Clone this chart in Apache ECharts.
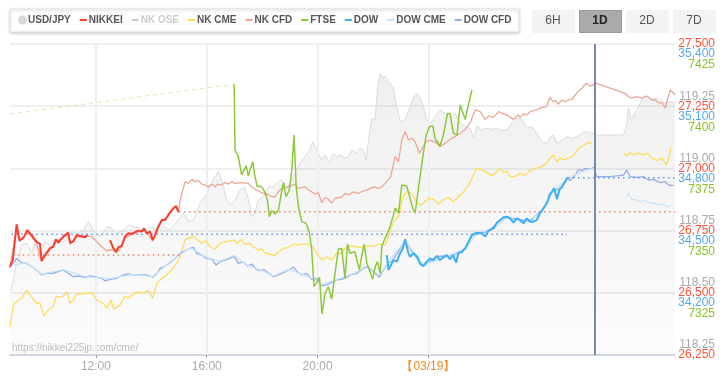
<!DOCTYPE html>
<html><head><meta charset="utf-8">
<script src="https://cdn.jsdelivr.net/npm/echarts@6/dist/echarts.min.js"></script>
<style>html,body{margin:0;padding:0;background:#fff}#c{width:726px;height:380px}</style>
</head><body><div id="c"></div>
<script>
// ---- axis / tick definitions ----
const timeTicks = [12, 16, 20, 24];
const nowMarker = 30;               // 06:00 on 03/19
const legendNames = ['USD/JPY','NIKKEI','NK OSE','NK CME','NK CFD','FTSE','DOW','DOW CME','DOW CFD'];
const buttons = ['6H','1D','2D','7D'];

// ---- series values: [hour since 03/18 00:00, value] ----
const usdjpy = [[8.93,118.504],[9.02,118.551],[9.08,118.591],[9.20,118.639],[9.32,118.692],[9.50,118.699],[9.68,118.659],[9.80,118.699],[9.98,118.652],[10.16,118.705],[10.34,118.692],[10.52,118.715],[10.71,118.699],[10.95,118.715],[11.13,118.746],[11.37,118.739],[11.55,118.752],[11.73,118.786],[11.85,118.766],[12.03,118.726],[12.21,118.732],[12.39,118.766],[12.57,118.759],[12.75,118.739],[12.99,118.752],[13.17,118.773],[13.35,118.766],[13.59,118.759],[13.83,118.739],[14.02,118.766],[14.20,118.742],[14.43,118.766],[14.68,118.752],[14.92,118.786],[15.16,118.820],[15.34,118.786],[15.52,118.793],[15.76,118.860],[15.94,118.886],[16.12,118.927],[16.30,118.967],[16.42,118.987],[16.54,118.953],[16.72,118.873],[16.87,118.853],[17.02,118.873],[17.20,118.913],[17.35,118.926],[17.50,118.880],[17.63,118.806],[17.74,118.820],[17.86,118.873],[18.04,118.886],[18.23,118.926],[18.41,118.926],[18.59,118.947],[18.71,118.953],[18.89,118.926],[19.01,118.940],[19.19,118.980],[19.37,119.021],[19.55,119.047],[19.71,119.074],[19.83,119.107],[19.97,119.074],[20.15,119.034],[20.27,119.054],[20.43,119.021],[20.57,119.061],[20.69,119.047],[20.81,119.054],[20.99,119.041],[21.11,119.047],[21.24,119.074],[21.42,119.061],[21.54,119.081],[21.65,119.074],[21.75,119.034],[21.84,119.114],[21.96,119.201],[22.08,119.195],[22.16,119.315],[22.26,119.382],[22.35,119.362],[22.44,119.369],[22.56,119.348],[22.72,119.328],[22.86,119.248],[22.98,119.188],[23.16,119.195],[23.34,119.248],[23.48,119.288],[23.60,119.302],[23.73,119.275],[23.82,119.248],[23.94,119.195],[24.09,119.181],[24.24,119.208],[24.42,119.235],[24.60,119.221],[24.78,119.201],[24.96,119.221],[25.15,119.181],[25.33,119.168],[25.51,119.161],[25.63,119.121],[25.75,119.170],[25.93,119.154],[26.11,119.161],[26.29,119.157],[26.47,119.161],[26.65,119.152],[26.83,119.154],[27.01,119.184],[27.19,119.201],[27.37,119.201],[27.55,119.161],[27.73,119.168],[27.91,119.141],[28.09,119.107],[28.28,119.101],[28.39,119.127],[28.51,119.134],[28.64,119.101],[28.82,119.114],[29.00,119.127],[29.18,119.121],[29.36,119.127],[29.54,119.141],[29.72,119.148],[29.90,119.141],[30.08,119.134],[31.04,119.134],[31.16,119.174],[31.22,119.242],[31.31,119.195],[31.43,119.215],[31.58,119.248],[31.70,119.275],[31.82,119.291],[32.00,119.278],[32.18,119.282],[32.37,119.275],[32.55,119.262],[32.73,119.268],[32.90,119.262]];

const nikkei = [[8.90,26605],[9.00,26632],[9.14,26775],[9.24,26712],[9.32,26715],[9.41,26726],[9.52,26752],[9.68,26732],[9.86,26705],[9.98,26698],[10.04,26629],[10.16,26652],[10.34,26679],[10.46,26685],[10.56,26715],[10.64,26701],[10.82,26726],[11.00,26742],[11.07,26701],[11.19,26707],[11.31,26732],[11.49,26726],[11.61,26723],[11.69,26732],[12.10,null],[12.51,26712],[12.63,26679],[12.73,26665],[12.81,26683],[12.93,26688],[13.05,26726],[13.17,26739],[13.29,26736],[13.41,26744],[13.53,26750],[13.65,26746],[13.74,26759],[13.83,26739],[13.95,26746],[14.05,26712],[14.13,26732],[14.25,26766],[14.38,26793],[14.50,26793],[14.61,26813],[14.68,26820],[14.80,26840],[14.89,26849],[14.98,26826]];

const nkOse = [];

const nkCme = [[8.90,26364],[9.02,26451],[9.14,26464],[9.32,26478],[9.50,26511],[9.68,26484],[9.86,26458],[9.98,26458],[10.13,26407],[10.28,26431],[10.46,26444],[10.56,26484],[10.71,26484],[10.82,26487],[10.95,26504],[11.07,26458],[11.19,26471],[11.31,26498],[11.49,26495],[11.67,26498],[11.85,26500],[12.03,26471],[12.27,26458],[12.39,26438],[12.54,26471],[12.65,26434],[12.87,26451],[13.05,26487],[13.17,26478],[13.35,26495],[13.53,26504],[13.71,26498],[13.89,26509],[14.05,26478],[14.20,26538],[14.38,26558],[14.56,26572],[14.74,26592],[14.92,26621],[15.04,26645],[15.22,26715],[15.34,26719],[15.50,26728],[15.64,26715],[15.82,26699],[15.98,26709],[16.12,26685],[16.30,26675],[16.48,26699],[16.66,26705],[16.84,26709],[17.02,26712],[17.08,26696],[17.23,26715],[17.38,26696],[17.54,26699],[17.68,26685],[17.86,26672],[17.99,26675],[18.11,26659],[18.29,26656],[18.43,26648],[18.59,26665],[18.77,26679],[18.95,26683],[19.13,26696],[19.31,26692],[19.49,26696],[19.67,26696],[19.85,26683],[19.97,26659],[20.15,26632],[20.33,26645],[20.51,26632],[20.69,26659],[20.87,26659],[21.06,26688],[21.17,26688],[21.54,26683],[21.78,26688],[22.02,26688],[22.26,26696],[22.44,26692],[22.56,26726],[22.74,26786],[22.92,26806],[23.08,26886],[23.22,26906],[23.37,26900],[23.52,26876],[23.68,26853],[23.82,26860],[24.00,26880],[24.18,26876],[24.36,26857],[24.54,26873],[24.72,26884],[24.90,26866],[25.08,26886],[25.27,26906],[25.45,26933],[25.63,26974],[25.75,27000],[25.93,26994],[26.11,26983],[26.29,26970],[26.47,26987],[26.56,27000],[26.71,26983],[26.83,26987],[26.95,26967],[27.13,26967],[27.31,26980],[27.49,26973],[27.67,26991],[27.85,27000],[28.03,27004],[28.21,27014],[28.39,27041],[28.51,27054],[28.64,27027],[28.76,27041],[28.88,27034],[29.06,27041],[29.18,27047],[29.30,27061],[29.42,27081],[29.60,27094],[29.78,27103],[29.90,27103],[30.40,null],[31.04,27061],[31.16,27050],[31.28,27063],[31.42,27054],[31.58,27061],[31.76,27054],[31.91,27061],[32.07,27041],[32.25,27031],[32.43,27041],[32.58,27014],[32.67,27041],[32.75,27081]];

const nkCfd = [[8.90,26600],[9.14,26760],[9.24,26705],[9.52,26745],[9.86,26700],[10.04,26625],[10.34,26672],[10.56,26708],[10.82,26720],[11.00,26735],[11.07,26695],[11.31,26725],[11.69,26728],[11.85,26726],[12.03,26705],[12.15,26692],[12.27,26679],[12.39,26669],[12.51,26672],[12.63,26672],[12.73,26660],[12.93,26685],[13.05,26720],[13.29,26735],[13.53,26745],[13.74,26755],[14.05,26708],[14.25,26760],[14.38,26788],[14.61,26808],[14.74,26835],[14.89,26843],[14.98,26822],[15.04,26873],[15.22,26947],[15.34,26940],[15.46,26956],[15.58,26947],[15.70,26951],[15.82,26937],[15.94,26933],[16.06,26924],[16.18,26937],[16.30,26926],[16.42,26937],[16.54,26933],[16.66,26943],[16.78,26937],[16.90,26947],[17.02,26940],[17.26,26943],[17.50,26940],[17.62,26926],[17.74,26916],[17.86,26910],[17.99,26900],[18.11,26902],[18.23,26893],[18.35,26886],[18.47,26886],[18.59,26906],[18.71,26920],[18.95,26926],[19.19,26937],[19.31,26920],[19.55,26926],[19.67,26913],[19.91,26897],[20.03,26902],[20.15,26862],[20.27,26884],[20.39,26876],[20.51,26860],[20.63,26880],[20.87,26884],[20.99,26900],[21.11,26893],[21.29,26906],[21.47,26900],[21.66,26910],[21.84,26916],[22.02,26926],[22.20,26920],[22.32,26926],[22.50,26947],[22.64,26967],[22.80,27047],[22.92,27027],[23.04,27114],[23.16,27148],[23.28,27114],[23.40,27121],[23.52,27107],[23.68,27061],[23.80,27087],[23.92,27107],[24.06,27114],[24.24,27107],[24.42,27087],[24.60,27101],[24.78,27117],[24.96,27127],[25.15,27141],[25.33,27157],[25.51,27184],[25.69,27235],[25.87,27228],[26.05,27197],[26.17,27211],[26.35,27205],[26.53,27228],[26.71,27219],[26.89,27211],[27.07,27197],[27.25,27215],[27.31,27205],[27.43,27219],[27.55,27215],[27.67,27228],[27.79,27232],[27.91,27235],[28.03,27242],[28.15,27246],[28.27,27248],[28.39,27286],[28.49,27268],[28.58,27272],[28.69,27259],[28.82,27275],[28.94,27268],[29.06,27275],[29.18,27278],[29.30,27295],[29.42,27312],[29.54,27322],[29.69,27342],[29.84,27331],[29.94,27335],[30.02,27344],[31.10,27302],[31.22,27288],[31.34,27282],[31.52,27288],[31.70,27282],[31.89,27291],[32.07,27275],[32.19,27275],[32.30,27264],[32.46,27262],[32.55,27242],[32.63,27278],[32.73,27315],[32.85,27302],[32.90,27295]];

const ftse = [[16.99,7408.8],[17.02,7382.4],[17.14,7379.7],[17.26,7372.4],[17.42,7376.0],[17.50,7372.0],[17.57,7372.4],[17.66,7377.7],[17.74,7371.7],[17.83,7367.6],[17.93,7367.9],[18.02,7367.0],[18.11,7365.2],[18.19,7362.3],[18.26,7355.6],[18.35,7358.0],[18.47,7356.7],[18.59,7358.3],[18.67,7363.6],[18.77,7369.3],[18.86,7363.6],[18.98,7366.3],[19.07,7374.4],[19.15,7388.4],[19.23,7367.6],[19.31,7359.6],[19.43,7353.6],[19.59,7352.9],[19.71,7348.9],[19.79,7342.2],[19.87,7327.5],[19.97,7329.1],[20.07,7331.2],[20.16,7316.5],[20.27,7324.8],[20.39,7327.5],[20.51,7322.4],[20.63,7332.8],[20.75,7342.5],[20.87,7342.9],[20.99,7330.8],[21.08,7344.6],[21.17,7340.9],[21.35,7341.5],[21.42,7338.2],[21.51,7334.2],[21.60,7340.2],[21.68,7344.6],[21.78,7336.9],[21.87,7334.2],[21.99,7330.4],[22.08,7335.5],[22.16,7337.5],[22.26,7332.8],[22.32,7343.8],[22.41,7346.2],[22.52,7348.9],[22.62,7351.6],[22.72,7355.6],[22.80,7359.0],[22.92,7357.0],[23.04,7368.3],[23.22,7367.9],[23.32,7363.6],[23.44,7358.9],[23.52,7357.0],[23.60,7363.6],[23.70,7371.7],[23.80,7379.7],[23.92,7388.4],[24.04,7391.8],[24.16,7392.0],[24.24,7387.1],[24.42,7384.0],[24.54,7388.4],[24.69,7397.1],[24.78,7397.1],[24.90,7389.1],[25.03,7388.4],[25.15,7400.5],[25.33,7394.7],[25.45,7400.9],[25.57,7406.5]];
const ftseLink = [[8.90,7396.9],[16.99,7408.8]];

const dow = [[22.50,34382],[22.56,34310],[22.62,34307],[22.74,34358],[22.86,34350],[22.98,34391],[23.08,34415],[23.16,34458],[23.28,34391],[23.34,34374],[23.46,34391],[23.60,34374],[23.70,34339],[23.82,34329],[23.94,34350],[24.06,34366],[24.18,34358],[24.30,34378],[24.42,34358],[24.54,34371],[24.66,34382],[24.78,34362],[24.90,34382],[25.00,34345],[25.08,34391],[25.21,34398],[25.33,34415],[25.45,34446],[25.57,34479],[25.75,34490],[25.93,34487],[26.05,34471],[26.17,34500],[26.35,34511],[26.47,34538],[26.59,34551],[26.71,34564],[26.83,34567],[26.95,34559],[27.07,34538],[27.19,34559],[27.31,34551],[27.43,34535],[27.55,34559],[27.67,34543],[27.79,34543],[27.91,34551],[28.03,34583],[28.15,34608],[28.28,34632],[28.37,34672],[28.46,34688],[28.54,34704],[28.64,34651],[28.73,34696],[28.82,34712],[28.94,34736],[29.02,34757]];

const dowCme = [[8.90,34330],[9.50,34345],[10.04,34290],[10.82,34312],[11.61,34278],[12.51,34268],[13.35,34289],[14.05,34278],[14.68,34350],[15.40,34418],[16.00,34370],[16.48,34353],[16.99,34380],[17.47,34332],[17.93,34310],[18.41,34281],[18.95,34313],[19.43,34290],[19.79,34270],[20.15,34240],[20.51,34255],[21.06,34282],[21.42,34300],[21.78,34330],[22.23,34285],[22.56,34350],[23.16,34450],[23.82,34335],[24.54,34368],[25.33,34412],[25.75,34488],[26.35,34508],[26.83,34563],[27.43,34540],[28.03,34580],[28.46,34685],[29.02,34752],[29.54,34785],[29.96,34800],[30.50,null],[31.10,34656],[31.22,34680],[31.34,34651],[31.52,34648],[31.70,34639],[31.82,34648],[31.94,34635],[32.12,34632],[32.30,34623],[32.48,34628],[32.63,34615],[32.75,34623]];

const dowCfd = [[8.90,34326],[9.02,34342],[9.14,34366],[9.32,34345],[9.50,34342],[9.68,34326],[9.86,34310],[10.04,34286],[10.22,34294],[10.46,34294],[10.64,34302],[10.82,34310],[11.00,34294],[11.19,34278],[11.43,34281],[11.61,34275],[11.79,34281],[12.03,34275],[12.21,34270],[12.33,34258],[12.51,34265],[12.75,34270],[12.99,34286],[13.17,34291],[13.35,34286],[13.59,34286],[13.83,34286],[14.05,34275],[14.20,34294],[14.32,34318],[14.50,34329],[14.68,34346],[14.86,34366],[15.04,34390],[15.22,34403],[15.40,34415],[15.52,34419],[15.64,34390],[15.82,34382],[16.00,34366],[16.18,34362],[16.34,34334],[16.48,34350],[16.66,34358],[16.84,34366],[16.99,34377],[17.14,34342],[17.30,34350],[17.47,34329],[17.63,34339],[17.78,34313],[17.93,34307],[18.07,34313],[18.23,34294],[18.41,34278],[18.59,34286],[18.77,34297],[18.95,34310],[19.13,34323],[19.27,34302],[19.43,34286],[19.61,34294],[19.79,34265],[19.97,34270],[20.15,34233],[20.33,34238],[20.51,34249],[20.69,34262],[20.87,34265],[21.06,34275],[21.17,34286],[21.42,34294],[21.60,34313],[21.78,34326],[22.02,34302],[22.23,34275],[22.38,34310],[22.56,34345],[22.68,34350],[22.74,34356],[23.16,34452],[23.46,34388],[23.82,34330],[24.30,34375],[24.90,34380],[25.33,34413],[25.57,34476],[26.17,34498],[26.71,34562],[27.19,34556],[27.67,34545],[28.15,34605],[28.46,34685],[28.82,34710],[29.02,34755],[29.12,34741],[29.30,34768],[29.42,34796],[29.54,34789],[29.66,34800],[29.84,34796],[29.96,34805],[30.02,34808],[30.08,34760],[30.56,34760],[31.04,34768],[31.16,34792],[31.28,34760],[31.52,34757],[31.76,34760],[31.94,34744],[32.12,34747],[32.37,34731],[32.54,34736],[32.67,34720],[32.85,34717]];

// reference levels: [start hour, end hour, value]
const nikkeiPrevClose = [9.0, 15.0, 26652];
const nikkeiClose = [15.0, 32.9, 26826];
const dowPrevClose = [8.95, 29.0, 34482];
const dowClose = [29.04, 32.9, 34755];

// ---- styling ----
const FONT = 'Liberation Sans';
const COLORS = {
  'USD/JPY':'#d9d9d9','NIKKEI':'#ff3b2f','NK OSE':'#dddddd','NK CME':'#fddc5c','NK CFD':'#eaa898',
  'FTSE':'#8cc83a','DOW':'#3eb0f6','DOW CME':'#c8e3fa','DOW CFD':'#92ade4'
};
const lineIcon = 'path://M0,0M9,10M1,4h7v2h-7z';
const circleIcon = 'path://M0,0M9,10M0,5a4.5,4.5 0 1,0 9,0a4.5,4.5 0 1,0 -9,0z';

function lineSeries(name, data, axis, width, z) {
  return { name, type:'line', data, yAxisIndex:axis, symbol:'none', showSymbol:false,
    color: COLORS[name], lineStyle:{ color: COLORS[name], width }, z, silent:true };
}
function levelSeries(lv, axis, color, z, extra) {
  return Object.assign({ type:'line', yAxisIndex:axis, symbol:'none', silent:true, z,
    data:[[lv[0], lv[2]],[lv[1], lv[2]]],
    lineStyle:{ color, width:1.5, type:[1.5,3.5] } }, extra || {});
}
const fmtNum = v => v.toLocaleString('en-US');

const chart = echarts.init(document.getElementById('c'), null, {renderer:'canvas'});
const btnGraphics = [];
buttons.forEach((b, i) => {
  const sel = b === '1D';
  const x = 532 + i * 47;
  btnGraphics.push({ type:'rect', left:x, top:10, shape:{width:42, height:22},
    style:{ fill: sel ? '#aaaaaa' : '#f3f3f3', stroke: sel ? '#999' : '#f3f3f3', lineWidth:1 } });
  btnGraphics.push({ type:'text', x: x + 21, y: 21,
    style:{ text:b, fill: sel ? '#222' : '#555', font:(sel ? 'bold ' : '') + '12px "' + FONT + '"',
      align:'center', verticalAlign:'middle' } });
});

// labels of the four stacked right axes: stacked with verticalAlign + lineHeight
const yLabel = (color, va, lh, extra) => Object.assign({ color, fontSize:12, fontFamily:FONT, align:'right',
  margin:40, verticalAlign:va, lineHeight:lh, hideOverlap:false }, extra);

chart.setOption({
  animation:false,
  grid:{ left:10, right:51, top:44, bottom:25 },
  legend:{
    left:10, top:9, data: legendNames.map(n => ({ name:n, icon: n === 'USD/JPY' ? circleIcon : lineIcon })),
    itemWidth:9, itemHeight:10, itemGap:8, selected:{'NK OSE': false},
    textStyle:{ fontSize:10, fontWeight:'bold', color:'#555', fontFamily:FONT, padding:[0,0,0,-4] },
    inactiveColor:'#cccccc', backgroundColor:'#fff', borderColor:'#e4e4e4', borderWidth:1,
    shadowBlur:3, shadowColor:'rgba(0,0,0,0.22)', shadowOffsetY:1, padding:[6,8,7,8],
    selectedMode:false
  },
  xAxis:{ type:'value', min:8.9, max:32.9,
    axisLine:{ lineStyle:{ color:'#c6cde0', width:1.5 } },
    axisTick:{ show:true, customValues:timeTicks, length:3, lineStyle:{ color:'#999' } },
    axisLabel:{ customValues:timeTicks, color:'#aaa', fontSize:12, fontFamily:FONT, margin:6,
      formatter: v => v === 24 ? '{d|【03/19】}' : (String(v % 24).padStart(2,'0') + ':00'),
      rich:{ d:{ color:'#f08a1c', fontSize:12, fontFamily:FONT } } },
    splitLine:{ show:false } },
  yAxis:[
    { type:'value', position:'right', min:26250, max:27500, interval:250,
      axisLine:{show:false}, axisTick:{show:false},
      splitLine:{ lineStyle:{ color:'#efefef', width:2 } },
      axisLabel: yLabel('#ff5236', 'middle', 12, { formatter: fmtNum, showMinLabel:true, showMaxLabel:true }) },
    { type:'value', position:'right', min:118.25, max:119.5, interval:0.25,
      axisLine:{show:false}, axisTick:{show:false}, splitLine:{show:false},
      axisLabel: yLabel('#aaaaaa', 'bottom', 20, { formatter: v => v.toFixed(2), showMinLabel:true, showMaxLabel:false }) },
    { type:'value', position:'right', min:33900, max:35400, interval:300,
      axisLine:{show:false}, axisTick:{show:false}, splitLine:{show:false},
      axisLabel: yLabel('#55a8f0', 'top', 20, { formatter: fmtNum, showMinLabel:false, showMaxLabel:true }) },
    { type:'value', position:'right', min:7300, max:7425, interval:25,
      axisLine:{show:false}, axisTick:{show:false}, splitLine:{show:false},
      axisLabel: yLabel('#88c425', 'top', 42, { formatter: v => String(v), showMinLabel:false, showMaxLabel:true }) }
  ],
  graphic:[
    { type:'text', left:12, top:343, style:{ text:'https://nikkei225jp.com/cme/', fill:'#c0c0c0', font:'10px "' + FONT + '"' } },
    ...btnGraphics
  ],
  series:[
    { name:'USD/JPY', type:'line', data:usdjpy, yAxisIndex:1, symbol:'none', showSymbol:false, z:0, silent:true,
      color:COLORS['USD/JPY'], lineStyle:{ color:'#dadada', width:1 },
      areaStyle:{ color:new echarts.graphic.LinearGradient(0,0,0,1,[{offset:0,color:'rgba(0,0,0,0.085)'},{offset:1,color:'rgba(0,0,0,0.018)'}]) },
      markLine:{ silent:true, symbol:'none', z:1, label:{show:false}, animation:false,
        lineStyle:{ color:'#efefef', width:2, type:'solid' }, data: timeTicks.map(t => ({ xAxis:t })) } },
    lineSeries('NK OSE', nkOse, 0, 1.2, 2),
    lineSeries('NK CME', nkCme, 0, 1.3, 2),
    lineSeries('DOW CFD', dowCfd, 2, 1.3, 2),
    lineSeries('DOW CME', dowCme, 2, 1.3, 2),
    levelSeries(nikkeiPrevClose, 0, '#f2806f', 3),
    levelSeries(nikkeiClose, 0, '#f2806f', 3),
    levelSeries(dowPrevClose, 2, '#5f90ea', 3),
    { type:'line', yAxisIndex:3, symbol:'none', silent:true, z:3, data:ftseLink,
      lineStyle:{ color:'#d3e8a8', width:1, type:[4,4] } },
    lineSeries('NK CFD', nkCfd, 0, 1.3, 3),
    lineSeries('FTSE', ftse, 3, 1.5, 4),
    lineSeries('DOW', dow, 2, 2, 5),
    lineSeries('NIKKEI', nikkei, 0, 2, 6),
    levelSeries(dowClose, 2, '#5f90ea', 7, {
      markLine:{ silent:true, symbol:'none', z:10, label:{show:false}, animation:false,
        lineStyle:{ color:'#7c86b2', width:2, type:'solid' }, data:[{ xAxis: nowMarker }] } })
  ]
});
</script></body></html>
